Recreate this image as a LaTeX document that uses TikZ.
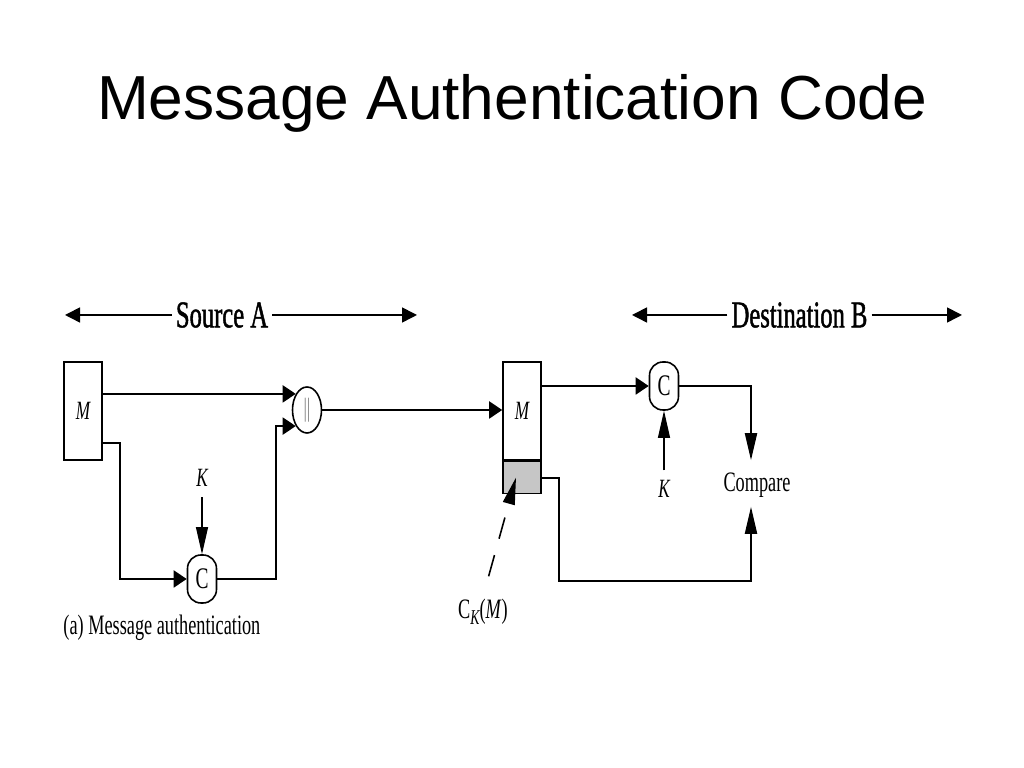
\documentclass[tikz,border=0pt]{standalone}
\usepackage{fontspec}
\setmainfont{Liberation Serif}
\setsansfont{Liberation Sans}
\newfontfamily\narrowfont[FakeStretch=0.65]{Liberation Serif}
\newfontfamily\narrowheavy[FakeStretch=0.65,FakeBold=1.2]{Liberation Serif}
\usetikzlibrary{positioning,arrows.meta,shapes.geometric}

\begin{document}
\begin{tikzpicture}[thick,
  wire/.style={line width=1.1pt},
  keyline/.style={line width=0.6pt},
  hin/.style={-{Triangle[length=0.26cm,width=0.34cm]}},
  vin/.style={-{Triangle[length=0.54cm,width=0.24cm]}},
  spantip/.style={line width=0.9pt,-{Triangle[length=0.3cm,width=0.3cm]}},
  spanlabel/.style={font=\narrowheavy\fontsize{21.5}{24}\selectfont,inner sep=2pt},
  lbl/.style={font=\narrowfont\fontsize{16}{18}\selectfont,inner sep=1pt},
  var/.style={font=\narrowfont\itshape\fontsize{15}{17}\selectfont,inner sep=1pt},
  msgbox/.style={draw,line width=0.9pt,minimum width=0.76cm,minimum height=1.96cm,inner sep=0pt,font=\narrowfont\itshape\fontsize{15}{17}\selectfont},
  tagbox/.style={draw,line width=0.9pt,fill=gray!45,minimum width=0.76cm,minimum height=0.64cm,inner sep=0pt},
  macbox/.style={draw,line width=0.9pt,rounded corners=0.27cm,minimum width=0.58cm,minimum height=0.96cm,inner sep=0pt,font=\narrowfont\fontsize{17}{19}\selectfont},
  catbox/.style={draw,line width=0.9pt,ellipse,minimum width=0.58cm,minimum height=0.92cm,inner sep=0pt,font=\narrowfont\fontsize{15}{17}\selectfont\color{gray}}]
 \useasboundingbox (0,0) rectangle (20.48,15.36);
 \node [anchor=base,font=\sffamily\fontsize{35.4}{40}\selectfont] (title) at (10.24,12.96) {Message Authentication Code};

 \node [spanlabel] (srcA) at (4.44,9.06) {Source A};
 \coordinate (srcL) at (1.30,9.06);
 \coordinate (srcR) at (8.34,9.06);
 \node [spanlabel] (dstB) at (15.99,9.06) {Destination B};
 \coordinate (dstL) at (12.64,9.06);
 \coordinate (dstR) at (19.24,9.06);

 \node [msgbox] (msgA) at (1.66,7.14) {M};
 \node [catbox] (cat) at (6.14,7.16) {||};
 \node [macbox] (macA) at (4.04,3.78) {C};
 \node [var, above=1.3cm of macA] (keyA) {K};
 \node [lbl, anchor=west] (caption) at (1.22,2.80) {(a) Message authentication};

 \node [msgbox] (msgB) at (10.44,7.14) {M};
 \node [tagbox, below=0pt of msgB] (tagB) {};
 \node [macbox] (macB) at (13.28,7.64) {C};
 \node [var, below=1.34cm of macB] (keyB) {K};
 \node [lbl] (cmp) at (15.14,5.65) {Compare};
 \node [lbl] (tag) at (9.66,3.12) {C\raisebox{-0.5ex}{\fontsize{12}{13}\selectfont\itshape K}(\textit{M})};

 \draw [spantip] (srcA) -- (srcL);
 \draw [spantip] (srcA) -- (srcR);
 \draw [spantip] (dstB) -- (dstL);
 \draw [spantip] (dstB) -- (dstR);

 \draw [wire, hin] (msgA.east |- cat.125) -- (cat.125);
 \draw [wire, hin] ([yshift=-6.4mm]msgA.east) -- ++(0.34,0) |- (macA.west);
 \draw [keyline, vin, shorten <=0.16cm] (keyA) -- (macA);
 \draw [wire, hin] (macA.east) -- ++(1.17,0) |- (cat.235);
 \draw [wire, hin] (cat.east) -- (cat.east -| msgB.west);

 \draw [wire, hin] (msgB.east |- macB.west) -- (macB.west);
 \draw [keyline, vin, shorten <=0.15cm] (keyB) -- (macB);
 \draw [wire, vin, shorten >=0.21cm] (macB.east) -| ([xshift=-1.2mm]cmp.north);
 \draw [wire, vin, shorten >=0.13cm] (tagB.east) -- ++(0.34,0) -- ++(0,-2.06) -| ([xshift=-1.2mm]cmp.south);
 \draw [line width=0.9pt, vin, dash pattern=on 0.44cm off 0.34cm, shorten <=0.42cm] (tag.north) -- ([xshift=-1.2mm]tagB.center);
\end{tikzpicture}
\end{document}
